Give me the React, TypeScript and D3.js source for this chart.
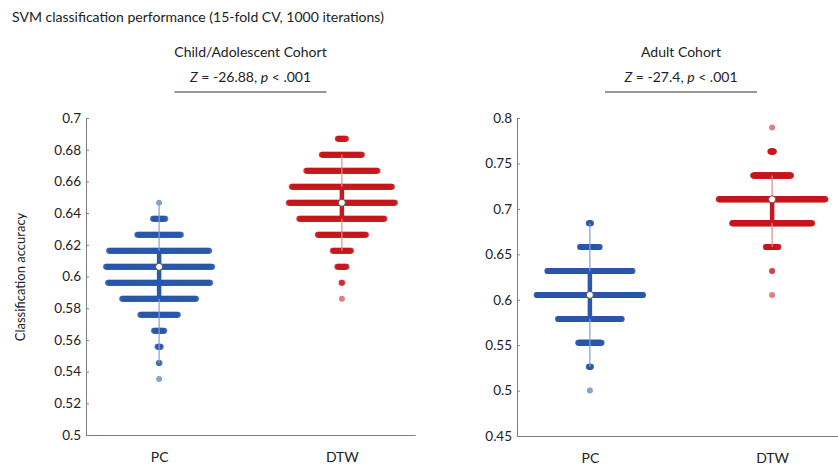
import React, { useEffect, useRef } from "react";
import * as d3 from "d3";

const W = 838;
const H = 470;

const groups = ["PC", "DTW"];

// child/adolescent cohort: accuracy levels and how many of the 1000 iterations hit each
const childPCAcc = [0.5354, 0.5455, 0.5556, 0.5657, 0.5758, 0.5859, 0.596, 0.6061, 0.6162, 0.6263, 0.6364, 0.6465];
const childPCCount = [1, 3, 8, 22, 76, 148, 204, 212, 200, 88, 26, 1];
const childDTWAcc = [0.5859, 0.596, 0.6061, 0.6162, 0.6263, 0.6364, 0.6465, 0.6566, 0.6667, 0.6768, 0.6869];
const childDTWCount = [1, 3, 20, 38, 98, 172, 214, 202, 144, 82, 18];

// adult cohort
const adultPCAcc = [0.5, 0.5263, 0.5526, 0.5789, 0.6053, 0.6316, 0.6579, 0.6842];
const adultPCCount = [1, 9, 78, 210, 350, 280, 66, 9];
const adultDTWAcc = [0.6053, 0.6316, 0.6579, 0.6842, 0.7105, 0.7368, 0.7632, 0.7895];
const adultDTWCount = [1, 2, 53, 330, 440, 157, 16, 1];

// summary: [whisker low, q1, median, q3, whisker high]
const childPCStats = [0.5455, 0.5859, 0.6061, 0.6162, 0.6465];
const childDTWStats = [0.6162, 0.6364, 0.6465, 0.6566, 0.6768];
const adultPCStats = [0.5263, 0.5789, 0.6053, 0.6316, 0.6842];
const adultDTWStats = [0.6579, 0.6842, 0.7105, 0.7105, 0.7368];

const childTicks = [0.5, 0.52, 0.54, 0.56, 0.58, 0.6, 0.62, 0.64, 0.66, 0.68, 0.7];
const adultTicks = [0.45, 0.5, 0.55, 0.6, 0.65, 0.7, 0.75, 0.8];

const BLUE = "#2c58ab";
const BLUE_LIGHT = "#7f9fd8";
const RED = "#c8181f";
const RED_LIGHT = "#e08a8a";
const FONT = "Lato, 'Open Sans', sans-serif";

const panels = [
  {
    title: "Child/Adolescent Cohort",
    z: "-26.88",
    x0: 86, x1: 415, yTop: 118, yBot: 435,
    domain: [0.5, 0.7], ticks: childTicks,
    series: [
      { acc: childPCAcc, count: childPCCount, stats: childPCStats, color: BLUE, light: BLUE_LIGHT },
      { acc: childDTWAcc, count: childDTWCount, stats: childDTWStats, color: RED, light: RED_LIGHT },
    ],
  },
  {
    title: "Adult Cohort",
    z: "-27.4",
    x0: 517, x1: 845, yTop: 118, yBot: 436,
    domain: [0.45, 0.8], ticks: adultTicks,
    series: [
      { acc: adultPCAcc, count: adultPCCount, stats: adultPCStats, color: BLUE, light: BLUE_LIGHT },
      { acc: adultDTWAcc, count: adultDTWCount, stats: adultDTWStats, color: RED, light: RED_LIGHT },
    ],
  },
];

const App = () => {
  const svgRef = useRef(null);

  useEffect(() => {
    const svg = d3.select(svgRef.current);
    svg.selectAll("*").remove();

    svg
      .append("text")
      .attr("x", 12)
      .attr("y", 22)
      .attr("font-size", 14)
      .attr("fill", "#222")
      .text("SVM classification performance (15-fold CV, 1000 iterations)");

    svg
      .append("text")
      .attr("transform", "translate(25,277) rotate(-90)")
      .attr("text-anchor", "middle")
      .attr("font-size", 13)
      .attr("fill", "#222")
      .text("Classification accuracy");

    panels.forEach((p) => {
      const x = d3.scaleLinear().domain([0.6, 2.4]).range([p.x0, p.x1]);
      const y = d3.scaleLinear().domain(p.domain).range([p.yBot, p.yTop]);
      const g = svg.append("g");
      const mid = (x(1) + x(2)) / 2;

      // headings
      g.append("text")
        .attr("x", mid)
        .attr("y", 57)
        .attr("text-anchor", "middle")
        .attr("font-size", 14)
        .attr("fill", "#222")
        .text(p.title);
      const zt = g
        .append("text")
        .attr("x", mid)
        .attr("y", 82)
        .attr("text-anchor", "middle")
        .attr("font-size", 14)
        .attr("fill", "#222");
      zt.append("tspan").attr("font-style", "italic").text("Z");
      zt.append("tspan").text(` = ${p.z}, `);
      zt.append("tspan").attr("font-style", "italic").text("p");
      zt.append("tspan").text(" < .001");
      g.append("line")
        .attr("x1", mid - 76)
        .attr("x2", mid + 76)
        .attr("y1", 92)
        .attr("y2", 92)
        .attr("stroke", "#333")
        .attr("stroke-width", 1.2);

      // axes
      const ya = g
        .append("g")
        .attr("transform", `translate(${p.x0},0)`)
        .call(
          d3
            .axisLeft(y)
            .tickValues(p.ticks)
            .tickSizeInner(-3)
            .tickSizeOuter(0)
            .tickPadding(5)
            .tickFormat((d) => String(+(+d).toFixed(2)))
        );
      const xa = g
        .append("g")
        .attr("transform", `translate(0,${p.yBot})`)
        .call(
          d3
            .axisBottom(x)
            .tickValues([1, 2])
            .tickSizeInner(0)
            .tickSizeOuter(0)
            .tickPadding(17)
            .tickFormat((d) => groups[+d - 1])
        );
      [ya, xa].forEach((a) => {
        a.select(".domain").attr("stroke", "#808080");
        a.selectAll(".tick line").attr("stroke", "#808080");
        a.selectAll("text").attr("font-family", FONT).attr("fill", "#222");
      });
      ya.selectAll("text").attr("font-size", 13.5);
      xa.selectAll("text").attr("font-size", 14);

      // dot rows, spread sideways in proportion to count
      p.series.forEach((s, gi) => {
        const cx = x(gi + 1);
        const spacing = 107 / d3.max(s.count);
        const dots = [];
        s.acc.forEach((a, ri) => {
          const n = s.count[ri];
          for (let i = 0; i < n; i++) {
            dots.push({ a, off: (i - (n - 1) / 2) * spacing });
          }
        });
        g.append("g")
          .selectAll("circle")
          .data(dots)
          .enter()
          .append("circle")
          .attr("cx", (d) => cx + d.off)
          .attr("cy", (d) => y(d.a))
          .attr("r", 3)
          .attr("fill", s.color)
          .attr("fill-opacity", 0.55);

        const [lo, q1, med, q3, hi] = s.stats;
        g.append("line")
          .attr("x1", cx)
          .attr("x2", cx)
          .attr("y1", y(lo))
          .attr("y2", y(hi))
          .attr("stroke", s.light)
          .attr("stroke-width", 1.2);
        g.append("line")
          .attr("x1", cx)
          .attr("x2", cx)
          .attr("y1", y(q1))
          .attr("y2", y(q3))
          .attr("stroke", s.color)
          .attr("stroke-width", 4.5);
        g.append("circle")
          .attr("cx", cx)
          .attr("cy", y(med))
          .attr("r", 3.5)
          .attr("fill", "#fff")
          .attr("stroke", "#555")
          .attr("stroke-width", 1);
      });
    });
  }, []);

  return (
    <svg
      ref={svgRef}
      width={W}
      height={H}
      style={{ position: "absolute", left: 0, top: 0, background: "#fff" }}
      fontFamily={FONT}
    ></svg>
  );
};

export default App;
